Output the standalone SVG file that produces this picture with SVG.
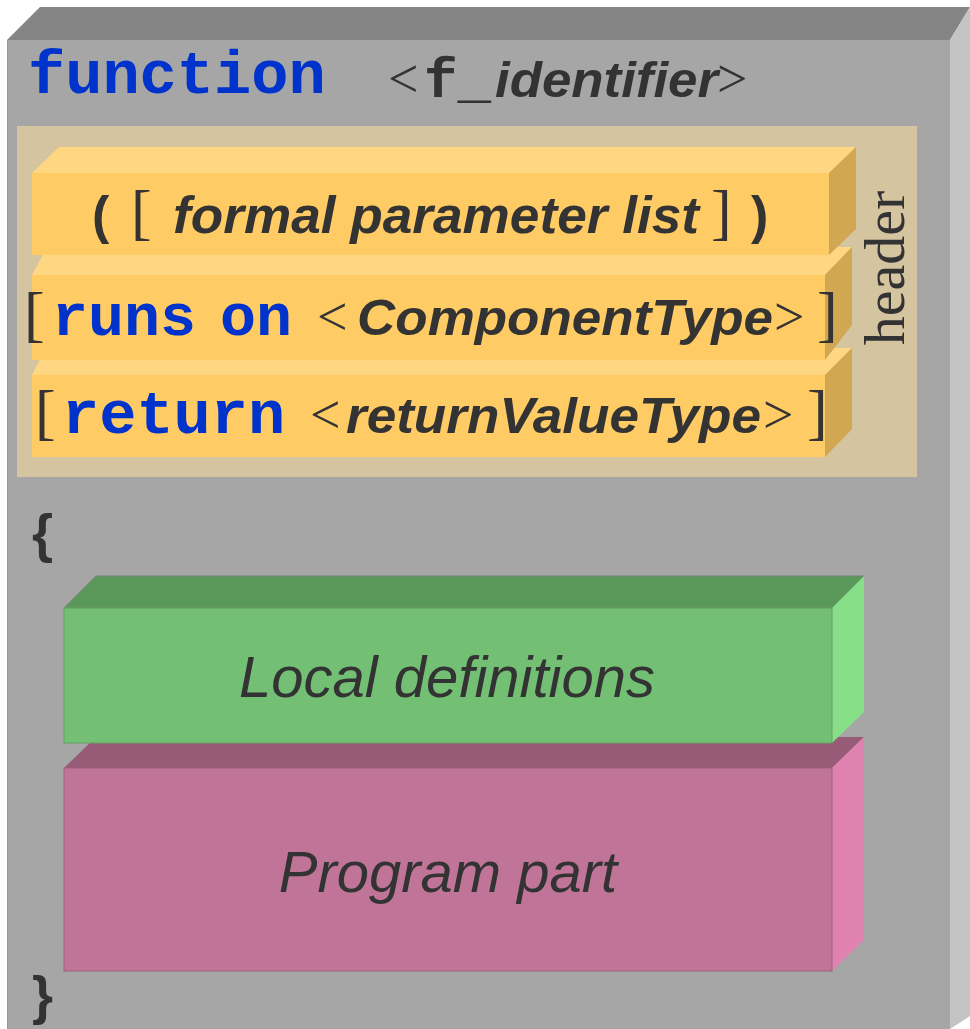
<svg xmlns="http://www.w3.org/2000/svg" width="970" height="1029" viewBox="0 0 970 1029">
<style>
.mono{font-family:"Liberation Mono","Courier New",monospace;font-weight:bold;fill:#0033cc}
.monod{font-family:"Liberation Mono","Courier New",monospace;font-weight:bold;fill:#333333}
.bi{font-family:"Liberation Sans",Arial,sans-serif;font-weight:bold;font-style:italic;fill:#333333}
.b{font-family:"Liberation Sans",Arial,sans-serif;font-weight:bold;fill:#333333}
.chev{font-family:"Liberation Serif","Times New Roman",serif;fill:#333333;font-size:54px}
.ser{font-family:"Liberation Serif","Times New Roman",serif;fill:#333333}
.it{font-family:"Liberation Sans",Arial,sans-serif;font-style:italic;fill:#333333;font-size:58px}
.yf{fill:#ffcb64}
.yt{fill:#ffd682}
.ys{fill:#d2a752}
</style>
<rect width="970" height="1029" fill="#ffffff"/>
<g id="function-box">
  <polygon points="7,40 40,7 970,7 950,40" fill="#858585"/>
  <polygon points="950,40 970,7 970,1016 950,1029" fill="#c4c4c4"/>
  <rect x="7" y="40" width="943" height="989" fill="#a6a6a6"/>
  <line x1="7.5" y1="40" x2="7.5" y2="1029" stroke="#9a9a9a" stroke-width="1"/>
  <text class="mono" x="28" y="93" font-size="62">function</text>
  <text class="chev" x="388" y="97">&lt;</text>
  <text class="monod" x="424" y="97" font-size="56">f_</text>
  <text class="bi" x="495" y="97" font-size="50" textLength="223" lengthAdjust="spacingAndGlyphs">identifier</text>
  <text class="chev" x="717" y="97">&gt;</text>
  <text class="b" x="32" y="552" font-size="54">{</text>
  <text class="b" x="32" y="1014" font-size="54">}</text>
</g>
<g id="header">
  <rect x="17" y="126" width="900" height="351" fill="#d4c4a0"/>
  <text class="ser" font-size="58" text-anchor="middle" transform="translate(904,268) rotate(-90)">header</text>
</g>
<g id="return-clause">
  <polygon class="yt" points="32,375 46,348 852,348 825,375"/>
  <polygon class="ys" points="825,375 852,348 852,429 825,457"/>
  <rect class="yf" x="32" y="375" width="793" height="82"/>
  <text class="ser" x="35" y="433" font-size="62">[</text>
  <text class="mono" x="62" y="433" font-size="62">return</text>
  <text class="chev" x="310" y="433">&lt;</text>
  <text class="bi" x="346" y="433" font-size="50" textLength="415" lengthAdjust="spacingAndGlyphs">returnValueType</text>
  <text class="chev" x="763" y="433">&gt;</text>
  <text class="ser" x="807" y="433" font-size="62">]</text>
</g>
<g id="runs-on-clause">
  <polygon class="yt" points="32,275 47,247 852,247 825,275"/>
  <polygon class="ys" points="825,275 852,247 852,325 825,360"/>
  <rect class="yf" x="32" y="275" width="793" height="85"/>
  <text class="ser" x="24" y="335" font-size="62">[</text>
  <text class="mono" x="52" y="335" font-size="60">runs</text>
  <text class="mono" x="220" y="335" font-size="60">on</text>
  <text class="chev" x="317" y="335">&lt;</text>
  <text class="bi" x="357" y="335" font-size="50" textLength="416" lengthAdjust="spacingAndGlyphs">ComponentType</text>
  <text class="chev" x="774" y="335">&gt;</text>
  <text class="ser" x="817" y="335" font-size="62">]</text>
</g>
<g id="parameter-list">
  <polygon class="yt" points="32,173 59,147 856,147 829,173"/>
  <polygon class="ys" points="829,173 856,147 856,229 829,255"/>
  <rect class="yf" x="32" y="173" width="797" height="82"/>
  <text class="b" x="92" y="233" font-size="52">(</text>
  <text class="ser" x="131" y="233" font-size="62">[</text>
  <text class="bi" x="173" y="233" font-size="52" textLength="526" lengthAdjust="spacingAndGlyphs">formal parameter list</text>
  <text class="ser" x="711" y="233" font-size="62">]</text>
  <text class="b" x="751" y="233" font-size="52">)</text>
</g>
<g id="program-part">
  <polygon points="64,768 96,737 864,737 832,768" fill="#975a77"/>
  <polygon points="832,768 864,737 864,940 832,971" fill="#df82b0"/>
  <rect x="64" y="768" width="768" height="203" fill="#c07498" stroke="#a0607e" stroke-width="1"/>
  <text class="it" x="448" y="892" text-anchor="middle">Program part</text>
</g>
<g id="local-definitions">
  <polygon points="64,608 96,576 864,576 832,608" fill="#5a985a" stroke="#6e866e" stroke-width="1"/>
  <polygon points="832,608 864,576 864,712 832,743" fill="#87df87"/>
  <rect x="64" y="608" width="768" height="135" fill="#73bf73" stroke="#66a066" stroke-width="1"/>
  <text class="it" x="447" y="697" text-anchor="middle">Local definitions</text>
</g>
<g id="connectors"/>
</svg>
